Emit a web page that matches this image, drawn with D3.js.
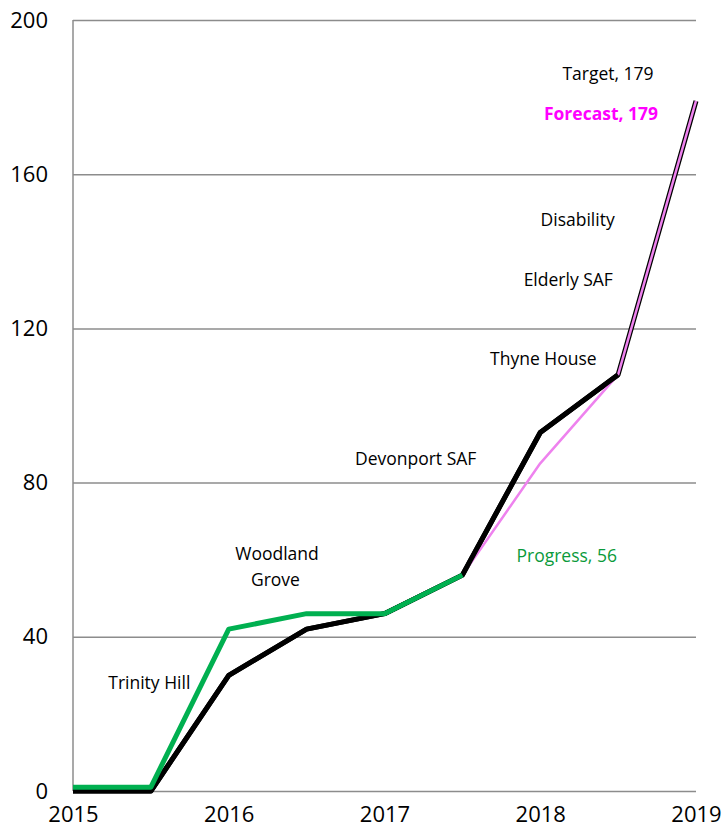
<!DOCTYPE html>
<html>
<head>
<meta charset="utf-8">
<script src="https://cdn.jsdelivr.net/npm/d3@7"></script>
<style>
  body { margin: 0; background: #fff; }
  svg { display: block; font-family: "Open Sans", sans-serif; }
</style>
</head>
<body>
<svg id="chart" width="722" height="827"></svg>
<script>
// fractional years: the series step every half year
const years    = [2015, 2015.5, 2016, 2016.5, 2017, 2017.5, 2018, 2018.5, 2019];
const target   = [0, 0, 30, 42, 46, 56, 93, 108, 179];
const forecast = [0, 0, 30, 42, 46, 56, 85, 108, 179];
const progress = [1, 1, 42, 46, 46, 56];

const xTicks = [2015, 2016, 2017, 2018, 2019];
const yTicks = [0, 40, 80, 120, 160, 200];

// annotation texts anchored at [year, value]
const notes = [
  { text: "Target, 179",   at: [2018.435, 186.2], cls: "plain" },
  { text: "Forecast, 179", at: [2018.39, 175.9],  cls: "fc" },
  { text: "Disability",    at: [2018.24, 148.4],  cls: "plain" },
  { text: "Elderly SAF",   at: [2018.18, 132.8],  cls: "plain" },
  { text: "Thyne House",   at: [2018.02, 112.3],  cls: "plain" },
  { text: "Devonport SAF", at: [2017.2, 86.4],    cls: "plain" },
  { text: "Woodland",      at: [2016.31, 61.7],   cls: "plain" },
  { text: "Grove",         at: [2016.30, 55.0],   cls: "plain" },
  { text: "Trinity Hill",  at: [2015.49, 28.3],   cls: "plain" },
  { text: "Progress, 56",  at: [2018.17, 61.2],   cls: "pg" }
];

const svg = d3.select("#chart");
const x = d3.scaleLinear().domain([2015, 2019]).range([73, 696]);
const y = d3.scaleLinear().domain([0, 200]).range([791, 20]);

// gridlines
const yAxis = d3.axisLeft(y).tickValues(yTicks).tickSize(-(696 - 73)).tickPadding(10);
const gy = svg.append("g").attr("transform", "translate(73,0)").call(yAxis);
gy.select(".domain").remove();
gy.selectAll(".tick line").attr("stroke", "#8c8c8c").attr("stroke-width", 1.5);
gy.selectAll(".tick text").attr("font-size", 22).attr("fill", "#000")
  .attr("font-family", "Open Sans, sans-serif").attr("dx", -15);

// vertical axis line
svg.append("line")
  .attr("x1", 73).attr("x2", 73).attr("y1", y(200)).attr("y2", y(0))
  .attr("stroke", "#8c8c8c").attr("stroke-width", 1.5);

const xAxis = d3.axisBottom(x).tickValues(xTicks).tickFormat(d3.format("d")).tickSize(0).tickPadding(15);
const gx = svg.append("g").attr("transform", "translate(0," + y(0) + ")").call(xAxis);
gx.select(".domain").remove();
gx.selectAll(".tick text").attr("font-size", 22).attr("fill", "#000")
  .attr("font-family", "Open Sans, sans-serif");

const line = d3.line().x((d, i) => x(years[i])).y(d => y(d));

const lineStyle = (sel, color, w) => sel
  .attr("d", line).attr("fill", "none")
  .attr("stroke", color).attr("stroke-width", w).attr("stroke-linejoin", "round");

// target full (gives the dark rim on the last forecast leg)
svg.append("path").datum(target).call(lineStyle, "#000", 5);
svg.append("path").datum(forecast).call(lineStyle, "#ee82ee", 2.5);
// target again up to 2018.5 so it sits over the forecast there
svg.append("path").datum(target.slice(0, 8)).call(lineStyle, "#000", 5);
svg.append("path").datum(progress).call(lineStyle, "#00b050", 5);

svg.append("g").selectAll("text")
  .data(notes)
  .enter().append("text")
  .attr("x", d => x(d.at[0]))
  .attr("y", d => y(d.at[1]))
  .attr("text-anchor", "middle")
  .attr("dominant-baseline", "central")
  .attr("font-size", 17.5)
  .attr("font-weight", d => d.cls === "fc" ? "bold" : "normal")
  .attr("fill", d => d.cls === "fc" ? "#ff00ff" : d.cls === "pg" ? "#0a9a3a" : "#000")
  .text(d => d.text);
</script>
</body>
</html>
